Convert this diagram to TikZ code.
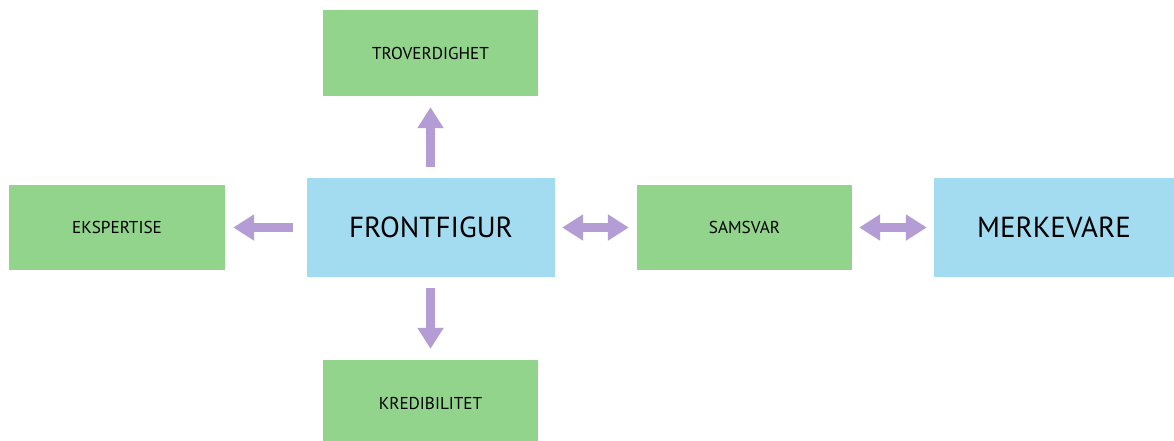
\documentclass[tikz,border=0pt]{standalone}
\usepackage{fontspec}
\setmainfont{PT Sans}
\usetikzlibrary{arrows.meta}
\definecolor{boxgreen}{RGB}{147,212,141}
\definecolor{boxblue}{RGB}{163,220,240}
\definecolor{arrowpurple}{RGB}{179,157,212}
\tikzset{
  greenbox/.style={fill=boxgreen, draw=none, inner sep=0pt, minimum width=215pt, minimum height=86pt, font=\fontsize{17.2}{20}\selectfont, text=black},
  bluebox/.style={fill=boxblue, draw=none, inner sep=0pt, minimum width=248pt, minimum height=99pt, font=\fontsize{29}{34}\selectfont, text=black},
  fat/.style={draw=arrowpurple, line width=9pt},
  onehead/.style={fat, -{Triangle[length=21pt,width=25pt]}},
  twohead/.style={fat, {Triangle[length=21pt,width=25pt]}-{Triangle[length=21pt,width=25pt]}}
}
\begin{document}
\begin{tikzpicture}[x=1pt,y=-1pt]
\useasboundingbox (0,0) rectangle (1174,441);
\node[greenbox] (trov) at (430.5,53) {TROVERDIGHET};
\node[bluebox] (front) at (431,227.5) {FRONTFIGUR};
\node[greenbox, minimum width=216pt, minimum height=85pt] (eksp) at (117,227.5) {EKSPERTISE};
\node[greenbox, minimum width=215pt, minimum height=85pt] (sams) at (744.5,227.5) {SAMSVAR};
\node[bluebox, minimum width=240pt] (merke) at (1054,227.5) {MERKEVARE};
\node[greenbox] (kred) at (430.5,403) {KREDIBILITET};
\draw[onehead, shorten <=11pt, shorten >=11pt] (front.north -| trov.south) -- (trov.south);
\draw[onehead, shorten <=11pt, shorten >=11pt] (front.south -| kred.north) -- (kred.north);
\draw[onehead, shorten <=14pt, shorten >=8pt] (front.west) -- (eksp.east);
\draw[twohead, shorten <=7pt, shorten >=8pt] (front.east) -- (sams.west);
\draw[twohead, shorten <=7pt, shorten >=7pt] (sams.east) -- (merke.west);
\end{tikzpicture}
\end{document}
